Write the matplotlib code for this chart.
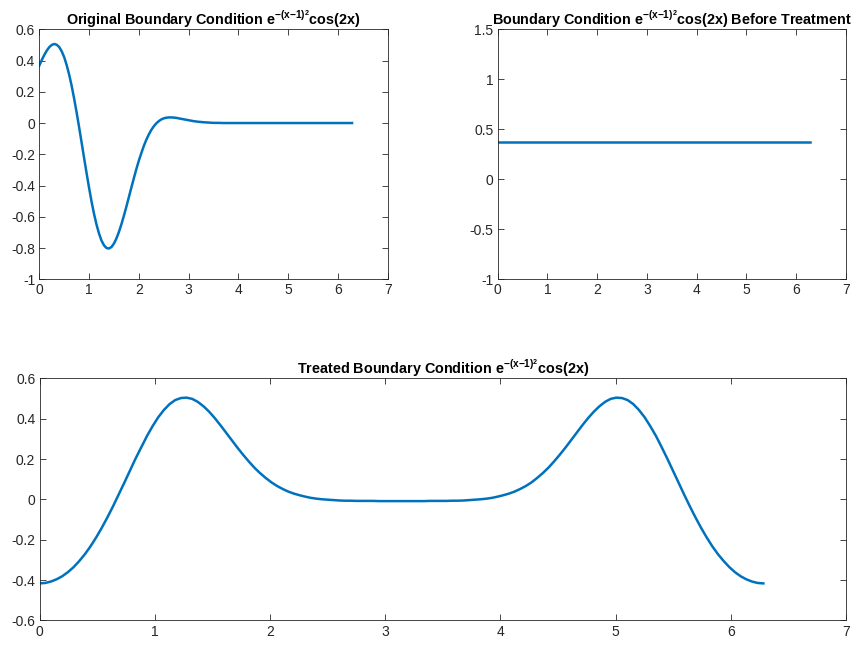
import matplotlib
matplotlib.use("Agg")
import matplotlib.pyplot as plt
from matplotlib.ticker import FixedLocator

plt.rcParams.update(
    {
        "font.family": ["Liberation Sans", "DejaVu Sans"],
        "font.size": 10,
        "axes.unicode_minus": False,
        "mathtext.fontset": "custom",
        "mathtext.rm": "Liberation Sans",
        "mathtext.bf": "Liberation Sans:bold",
        "mathtext.it": "Liberation Sans:italic",
    }
)

LINE_COLOR = "#0072BD"
AXIS_COLOR = "#262626"

# original boundary condition
orig_x = [
    0.00, 0.05, 0.10, 0.15, 0.20, 0.25, 0.30, 0.35, 0.40, 0.45,
    0.50, 0.55, 0.60, 0.65, 0.70, 0.75, 0.80, 0.85, 0.90, 0.95,
    1.00, 1.05, 1.10, 1.15, 1.20, 1.25, 1.30, 1.35, 1.40, 1.45,
    1.50, 1.55, 1.60, 1.65, 1.70, 1.75, 1.80, 1.85, 1.90, 1.95,
    2.00, 2.05, 2.10, 2.15, 2.20, 2.25, 2.30, 2.35, 2.40, 2.45,
    2.50, 2.55, 2.60, 2.65, 2.70, 2.75, 2.80, 2.85, 2.90, 2.95,
    3.00, 3.1, 3.2, 3.3, 3.4, 3.5, 3.6, 3.7, 3.8, 3.9,
    4.0, 4.1, 4.2, 4.3, 4.4, 4.5, 4.6, 4.7, 4.8, 4.9,
    5.0, 5.1, 5.2, 5.3, 5.4, 5.5, 5.6, 5.7, 5.8, 5.9,
    6.0, 6.1, 6.2, 6.283,
]
orig_y = [
    0.368, 0.404, 0.436, 0.464, 0.486, 0.500, 0.506, 0.501, 0.486, 0.459,
    0.421, 0.370, 0.309, 0.237, 0.155, 0.066, -0.028, -0.126, -0.225, -0.322,
    -0.416, -0.504, -0.583, -0.651, -0.708, -0.753, -0.783, -0.800, -0.803, -0.793,
    -0.771, -0.738, -0.696, -0.647, -0.592, -0.534, -0.473, -0.412, -0.352, -0.294,
    -0.240, -0.192, -0.146, -0.107, -0.073, -0.044, -0.021, -0.002, 0.012, 0.023,
    0.030, 0.034, 0.036, 0.036, 0.035, 0.033, 0.030, 0.027, 0.024, 0.021,
    0.018, 0.012, 0.008, 0.005, 0.003, 0.001, 0.001, 0.0, 0.0, 0.0,
    0.0, 0.0, 0.0, 0.0, 0.0, 0.0, 0.0, 0.0, 0.0, 0.0,
    0.0, 0.0, 0.0, 0.0, 0.0, 0.0, 0.0, 0.0, 0.0, 0.0,
    0.0, 0.0, 0.0, 0.0,
]

# before treatment: constant value
before_x = [0.0, 6.283]
before_y = [0.368, 0.368]

# treated boundary condition (bottom panel)
treated_x = [
    0.000, 0.049, 0.098, 0.147, 0.196, 0.245, 0.295, 0.344, 0.393, 0.442,
    0.491, 0.540, 0.589, 0.638, 0.687, 0.736, 0.785, 0.834, 0.884, 0.933,
    0.982, 1.031, 1.080, 1.129, 1.178, 1.227, 1.276, 1.325, 1.374, 1.424,
    1.473, 1.522, 1.571, 1.620, 1.669, 1.718, 1.767, 1.816, 1.865, 1.914,
    1.963, 2.013, 2.062, 2.111, 2.160, 2.209, 2.258, 2.307, 2.356, 2.405,
    2.454, 2.503, 2.553, 2.602, 2.651, 2.700, 2.749, 2.798, 2.847, 2.896,
    2.945, 2.994, 3.043, 3.093, 3.142, 3.191, 3.240, 3.289, 3.338, 3.387,
    3.436, 3.485, 3.534, 3.583, 3.632, 3.682, 3.731, 3.780, 3.829, 3.878,
    3.927, 3.976, 4.025, 4.074, 4.123, 4.172, 4.222, 4.271, 4.320, 4.369,
    4.418, 4.467, 4.516, 4.565, 4.614, 4.663, 4.712, 4.761, 4.811, 4.860,
    4.909, 4.958, 5.007, 5.056, 5.105, 5.154, 5.203, 5.252, 5.301, 5.351,
    5.400, 5.449, 5.498, 5.547, 5.596, 5.645, 5.694, 5.743, 5.792, 5.841,
    5.890, 5.940, 5.989, 6.038, 6.087, 6.136, 6.185, 6.234, 6.283,
]
treated_y = [
    -0.416, -0.414, -0.407, -0.396, -0.381, -0.361, -0.336, -0.306, -0.272, -0.233,
    -0.189, -0.141, -0.089, -0.034, 0.024, 0.083, 0.143, 0.203, 0.260, 0.315,
    0.364, 0.408, 0.444, 0.473, 0.493, 0.503, 0.505, 0.499, 0.484, 0.462,
    0.435, 0.403, 0.368, 0.331, 0.294, 0.257, 0.222, 0.189, 0.158, 0.131,
    0.107, 0.085, 0.067, 0.052, 0.039, 0.029, 0.021, 0.014, 0.008, 0.004,
    0.001, -0.001, -0.003, -0.005, -0.006, -0.006, -0.007, -0.007, -0.007, -0.007,
    -0.008, -0.008, -0.008, -0.008, -0.008, -0.008, -0.008, -0.008, -0.008, -0.007,
    -0.007, -0.007, -0.007, -0.006, -0.006, -0.005, -0.003, -0.001, 0.001, 0.004,
    0.008, 0.014, 0.021, 0.029, 0.039, 0.052, 0.067, 0.085, 0.107, 0.131,
    0.158, 0.189, 0.222, 0.257, 0.294, 0.331, 0.368, 0.403, 0.435, 0.462,
    0.484, 0.499, 0.505, 0.503, 0.493, 0.473, 0.444, 0.408, 0.364, 0.315,
    0.260, 0.203, 0.143, 0.083, 0.024, -0.034, -0.089, -0.141, -0.189, -0.233,
    -0.272, -0.306, -0.336, -0.361, -0.381, -0.396, -0.407, -0.414, -0.416,
]

x_ticks = [0, 1, 2, 3, 4, 5, 6, 7]
orig_yticks = [-1, -0.8, -0.6, -0.4, -0.2, 0, 0.2, 0.4, 0.6]
before_yticks = [-1, -0.5, 0, 0.5, 1, 1.5]
treated_yticks = [-0.6, -0.4, -0.2, 0, 0.2, 0.4, 0.6]

EXPR = r"$\mathbf{e^{-(x{-}1)^2}}$"
titles = [
    "Original Boundary Condition " + EXPR + "cos(2x)",
    "Boundary Condition " + EXPR + "cos(2x) Before Treatment",
    "Treated Boundary Condition " + EXPR + "cos(2x)",
]


def style_axes(ax, yticks, ylim, title):
    ax.set_xlim(0, 7)
    ax.set_ylim(*ylim)
    ax.xaxis.set_major_locator(FixedLocator(x_ticks))
    ax.yaxis.set_major_locator(FixedLocator(yticks))
    ax.set_xticklabels([f"{t:g}" for t in x_ticks])
    ax.set_yticklabels([f"{t:g}" for t in yticks])
    ax.tick_params(direction="in", top=True, right=True, length=4, width=0.6,
                   colors=AXIS_COLOR, labelsize=10, pad=3)
    for spine in ax.spines.values():
        spine.set_color(AXIS_COLOR)
        spine.set_linewidth(0.6)
    ax.set_title(title, fontsize=10.4, fontweight="bold", pad=3)


fig = plt.figure(figsize=(8.57, 6.45), dpi=100)
ax1 = fig.add_axes([0.0459, 0.567, 0.4065, 0.3876])
ax2 = fig.add_axes([0.5807, 0.567, 0.4061, 0.3876])
ax3 = fig.add_axes([0.0461, 0.038, 0.9410, 0.3752])

ax1.plot(orig_x, orig_y, color=LINE_COLOR, lw=1.8, solid_joinstyle="round")
style_axes(ax1, orig_yticks, (-1, 0.6), titles[0])

ax2.plot(before_x, before_y, color=LINE_COLOR, lw=1.8)
style_axes(ax2, before_yticks, (-1, 1.5), titles[1])

ax3.plot(treated_x, treated_y, color=LINE_COLOR, lw=1.8, solid_joinstyle="round")
style_axes(ax3, treated_yticks, (-0.6, 0.6), titles[2])

fig.savefig("out.png", dpi=100)
